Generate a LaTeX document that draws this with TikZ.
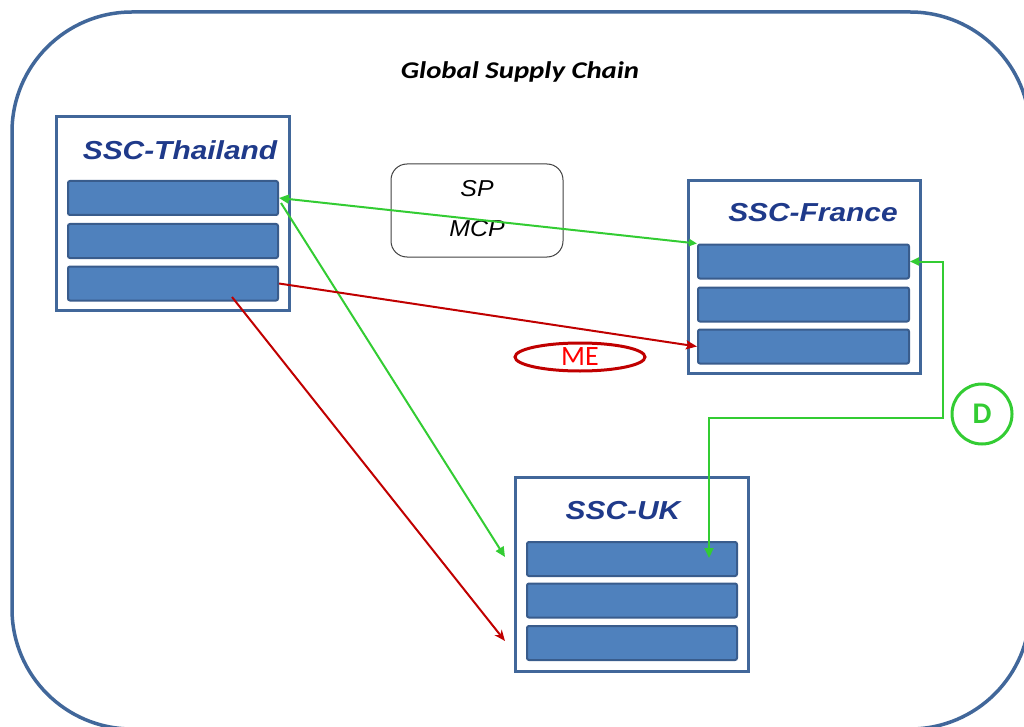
\documentclass[tikz,border=0pt]{standalone}
\usepackage{fontspec}
\setmainfont{Liberation Sans}
\newfontfamily\calib{Carlito}
\newfontfamily\calibw{Carlito}[FakeStretch=1.2]
\newfontfamily\arialw{Liberation Sans}[FakeStretch=1.15]
\newfontfamily\arialm{Liberation Sans}[FakeStretch=1.08]
\usetikzlibrary{arrows.meta,calc,shapes.geometric}
\definecolor{boxline}{HTML}{41679A}
\definecolor{barfill}{HTML}{4F81BD}
\definecolor{barline}{HTML}{395C8C}
\definecolor{navy}{HTML}{1F3A8A}
\definecolor{grn}{HTML}{33CC33}
\definecolor{rd}{HTML}{C00000}
\tikzset{
  sscbox/.style={draw=boxline, line width=3pt, fill=white, inner sep=0pt},
  bar/.style={draw=barline, line width=2pt, fill=barfill, rounded corners=2pt, inner sep=0pt, minimum width=210pt, minimum height=34pt},
  ssclabel/.style={font=\arialw\fontsize{26}{28}\selectfont\bfseries\itshape, text=navy},
  garrow/.style={draw=grn, line width=2pt},
  rarrow/.style={draw=rd, line width=2pt},
}
\begin{document}
\begin{tikzpicture}[x=1pt,y=-1pt]
\useasboundingbox (0,0) rectangle (1024,727);
\clip (0,0) rectangle (1024,727);
% outer frame
\draw[draw=boxline, line width=3.5pt, rounded corners=120pt] (12,12) rectangle (1030,729);
\node[font=\calibw\fontsize{24}{26}\selectfont\bfseries\itshape] (title) at (520,72) {Global Supply Chain};

% Thailand
\node[sscbox, minimum width=233pt, minimum height=193pt] (thbox) at (172.5,213.5) {};
\node[ssclabel] (thlab) at (180,150) {SSC-Thailand};
\node[bar] (th1) at (173,198) {};
\node[bar] (th2) at (173,241) {};
\node[bar] (th3) at (173,283.5) {};

% France
\node[sscbox, minimum width=232pt, minimum height=192pt] (frbox) at (804,277) {};
\node[ssclabel] (frlab) at (813,213) {SSC-France};
\node[bar, minimum width=211pt] (fr1) at (803.5,261.5) {};
\node[bar, minimum width=211pt] (fr2) at (803.5,304.5) {};
\node[bar, minimum width=211pt] (fr3) at (803.5,346.5) {};

% UK
\node[sscbox, minimum width=233pt, minimum height=194pt] (ukbox) at (631.5,574) {};
\node[ssclabel] (uklab) at (623,511) {SSC-UK};
\node[bar] (uk1) at (632,559) {};
\node[bar] (uk2) at (632,600.5) {};
\node[bar] (uk3) at (632,643) {};

% SP / MCP
\node[draw=black!75, line width=1pt, rounded corners=16pt, minimum width=172pt, minimum height=93pt] (spbox) at (477,210.5) {};
\node[font=\arialm\fontsize{23}{26}\selectfont\itshape] (sp) at (477,189) {SP};
\node[font=\arialm\fontsize{23}{26}\selectfont\itshape] (mcp) at (477,229) {MCP};

% ME
\node[draw=rd, line width=3pt, ellipse, minimum width=130pt, minimum height=28pt, inner sep=0pt,
      font=\calib\fontsize{28}{30}\selectfont, text=red] (me) at (580,357) {ME};

% D
\node[draw=grn, line width=3pt, circle, minimum size=60pt, inner sep=0pt,
      font=\calib\fontsize{30}{32}\selectfont\bfseries, text=grn] (d) at (982,414) {D};

% coordinates
\coordinate (thgs) at (281,203);
\coordinate (ukg) at (505,557);
\coordinate (thr) at (232,297);
\coordinate (ukr) at (505,641);
\coordinate (dtop) at (943,261.5);
\coordinate (dmid) at (709,418);
\coordinate (ukd) at (709,558);

% green connectors
\draw[garrow, {Triangle[length=10pt,width=9pt]}-{Triangle[length=8pt,width=7pt]}] (th1.east) -- (fr1.north west);
\draw[garrow, -{Triangle[length=10pt,width=9pt]}] (thgs) -- (ukg);
\draw[garrow, {Triangle[length=9pt,width=8pt]}-{Triangle[length=10pt,width=9pt]}] (fr1.east) -- (dtop) |- (dmid) -- (ukd);

% red connectors
\draw[rarrow, -{Stealth[length=11pt,width=9pt,inset=2pt]}] (th3.east) -- (fr3.west);
\draw[rarrow, -{Stealth[length=11pt,width=9pt]}] (thr) -- (ukr);
\end{tikzpicture}
\end{document}
